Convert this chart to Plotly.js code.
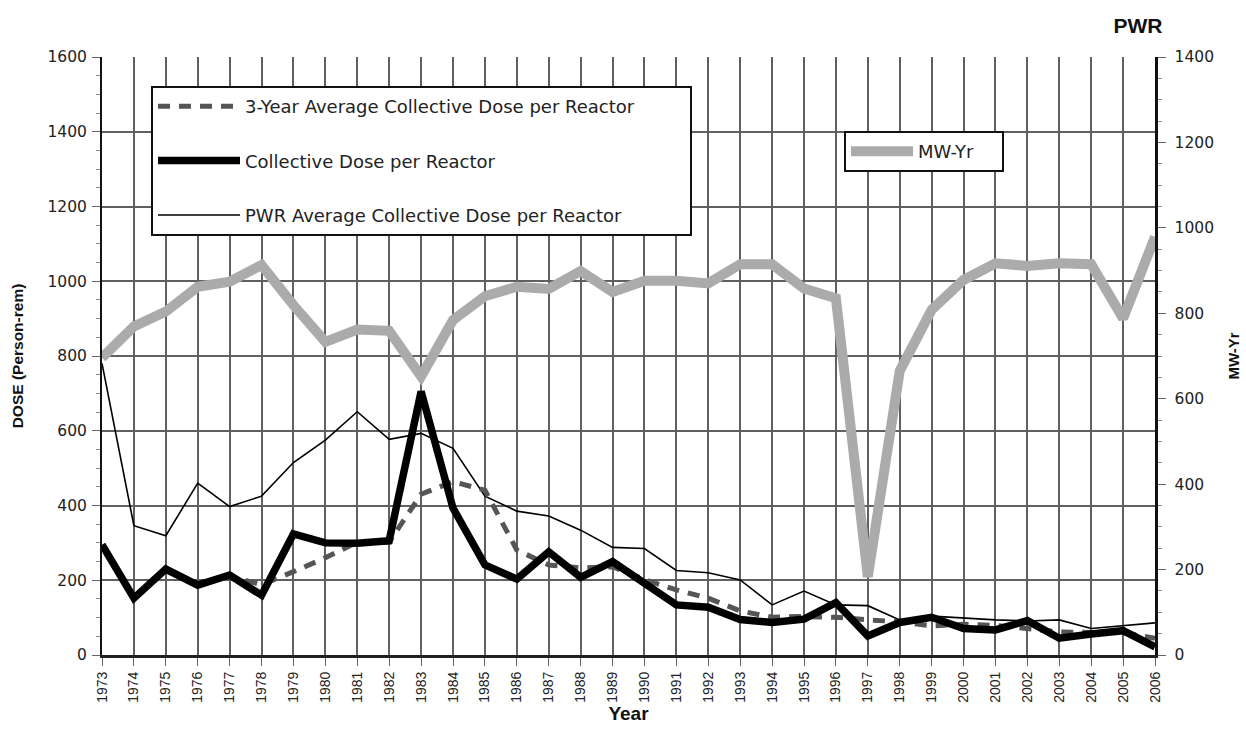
<!DOCTYPE html>
<html>
<head>
<meta charset="utf-8">
<script src="https://cdn.plot.ly/plotly-3.0.1.min.js"></script>
<style>
html,body{margin:0;padding:0;background:#fff;}
#chart{width:1246px;height:743px;}
</style>
</head>
<body>
<div id="chart"></div>
<script>
// ---- data ----
const years = [1973,1974,1975,1976,1977,1978,1979,1980,1981,1982,1983,1984,1985,1986,1987,1988,1989,1990,1991,1992,1993,1994,1995,1996,1997,1998,1999,2000,2001,2002,2003,2004,2005,2006];
const collectiveDose = [295,152,230,187,214,160,324,300,299,306,705,393,241,203,276,208,250,192,134,128,95,87,96,140,51,87,101,71,67,92,45,56,65,22];
const pwrAverageDose = [780,346,319,460,397,425,515,575,651,577,593,553,425,385,372,334,288,285,226,220,201,134,171,134,132,94,104,98,94,91,94,71,78,86];
const threeYearAvgDose = [null,null,225,189,211,188,223,260,302,302,430,464,441,281,241,233,236,202,174,152,118,101,103,101,94,89,78,82,79,71,62,60,60,45];
const mwYr = [696,769,804,862,874,913,819,733,762,759,652,784,840,862,857,899,850,876,876,870,915,915,858,835,183,665,808,878,917,911,917,915,788,979];
const yearLabels = years.map(String);

const SANS = 'Liberation Sans, Arial, sans-serif';
const WIDE = 'DejaVu Sans, Liberation Sans, sans-serif';
const PAD = n => '\u00a0'.repeat(n);

const traces = [
  {x: years, y: mwYr, yaxis: 'y2', type: 'scatter', mode: 'lines', name: 'MW-Yr' + PAD(4),
   line: {color: '#ababab', width: 10}, legend: 'legend2'},
  {x: years, y: pwrAverageDose, type: 'scatter', mode: 'lines',
   name: 'PWR Average Collective Dose per Reactor' + PAD(11),
   line: {color: '#000', width: 1.6}, legendrank: 3, legendgroup: 'c'},
  {x: years, y: threeYearAvgDose, type: 'scatter', mode: 'lines',
   name: '3-Year Average Collective Dose per Reactor',
   line: {color: '#555', width: 5, dash: '12px,9px'}, legendrank: 1, legendgroup: 'a'},
  {x: years, y: collectiveDose, type: 'scatter', mode: 'lines',
   name: 'Collective Dose per Reactor',
   line: {color: '#000', width: 7.5}, legendrank: 2, legendgroup: 'b'}
];

const layout = {
  width: 1246, height: 743,
  margin: {l: 102, r: 91, t: 57, b: 88},
  paper_bgcolor: '#fff', plot_bgcolor: '#fff',
  font: {family: WIDE, size: 15, color: '#222'},
  title: {text: '<b>PWR</b>', x: 1138/1246, xanchor: 'center', y: 1 - 26/743, yanchor: 'middle',
          font: {family: SANS, size: 21, color: '#111'}},
  xaxis: {
    range: [1973, 2006], tickmode: 'array', tickvals: years, ticktext: yearLabels,
    tickangle: -90, tickfont: {family: SANS, size: 14, color: '#222'},
    ticks: 'outside', ticklen: 8, tickcolor: '#666', tickwidth: 1,
    showgrid: true, gridcolor: '#606060', gridwidth: 2,
    showline: true, linecolor: '#222', linewidth: 3,
    zeroline: false,
    title: {text: '<b>Year</b>', font: {family: SANS, size: 19, color: '#111'}, standoff: 0}
  },
  yaxis: {
    range: [0, 1600], dtick: 200, tick0: 0,
    ticks: 'outside', ticklen: 8, tickcolor: '#666', tickwidth: 1,
    minor: {dtick: 50, ticks: 'outside', ticklen: 4, tickcolor: '#888', showgrid: false},
    showgrid: true, gridcolor: '#606060', gridwidth: 2,
    showline: true, linecolor: '#111', linewidth: 2,
    zeroline: false, ticklabelstandoff: 2,
    tickfont: {family: WIDE, size: 15.5, color: '#222'},
    title: {text: '<b>DOSE (Person-rem)</b>', font: {family: SANS, size: 15.5, color: '#111'}, standoff: 20}
  },
  yaxis2: {
    range: [0, 1400], dtick: 200, tick0: 0, overlaying: 'y', side: 'right',
    ticks: 'outside', ticklen: 8, tickcolor: '#666', tickwidth: 1,
    minor: {dtick: 50, ticks: 'outside', ticklen: 4, tickcolor: '#888', showgrid: false},
    showgrid: false,
    showline: true, linecolor: '#111', linewidth: 2.5,
    zeroline: false, ticklabelstandoff: 6,
    tickfont: {family: WIDE, size: 15.5, color: '#222'},
    title: {text: '<b>MW-Yr</b>', font: {family: SANS, size: 15, color: '#111'}, standoff: 16}
  },
  legend: {
    x: (151-102)/1053, y: (655-86)/598, xanchor: 'left', yanchor: 'top',
    bgcolor: '#fff', bordercolor: '#111', borderwidth: 2,
    font: {family: WIDE, size: 18, color: '#222'},
    traceorder: 'grouped', tracegroupgap: 28, itemwidth: 82
  },
  legend2: {
    x: (844-102)/1053, y: (655-131)/598, xanchor: 'left', yanchor: 'top',
    bgcolor: '#fff', bordercolor: '#111', borderwidth: 2,
    font: {family: WIDE, size: 18, color: '#222'}, itemwidth: 62
  },
  showlegend: true
};

Plotly.newPlot('chart', traces, layout, {displayModeBar: false, staticPlot: true});
</script>
</body>
</html>
